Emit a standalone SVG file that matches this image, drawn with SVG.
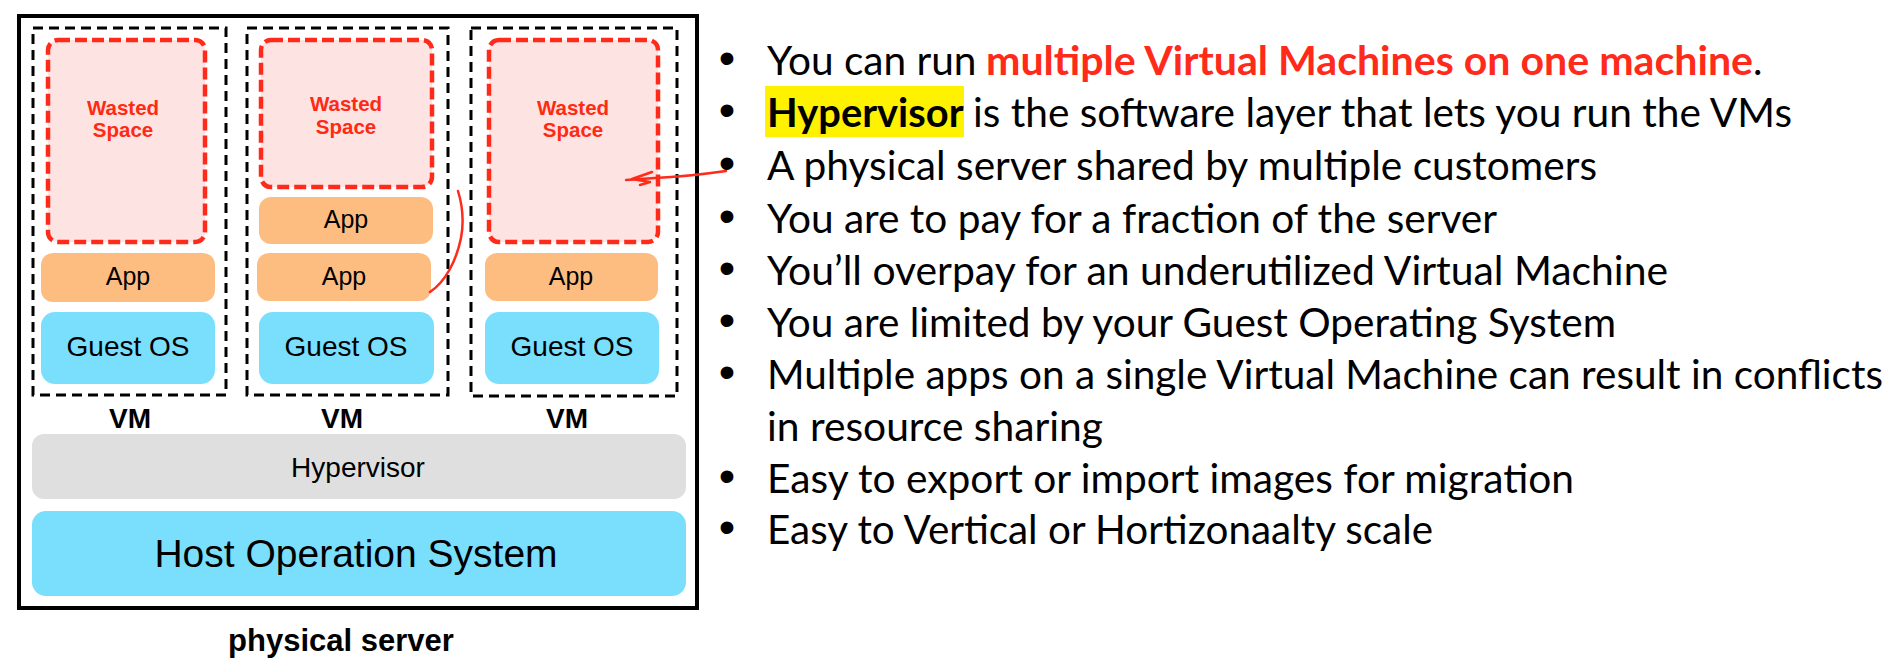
<svg xmlns="http://www.w3.org/2000/svg" width="1890" height="672" viewBox="0 0 1890 672">
  <style>
    .frame { fill: #ffffff; stroke: #000000; stroke-width: 4; }
    .vm { fill: none; stroke: #000000; stroke-width: 3; stroke-dasharray: 10 6; }
    .waste { fill: #fee3e3; stroke: #ff2a1a; stroke-width: 4.5; stroke-dasharray: 12 5; }
    .app { fill: #fdbd80; }
    .os { fill: #79dffd; }
    .hyp { fill: #dfdfdf; }
    .sans { font-family: "Liberation Sans", Arial, sans-serif; fill: #000000; text-anchor: middle; }
    .ws { font-family: "Liberation Sans", Arial, sans-serif; font-weight: bold; font-size: 20.5px; fill: #ff2a12; text-anchor: middle; }
    .lbl { font-size: 25px; }
    .oslbl { font-size: 28px; }
    .vmlbl { font-size: 28px; font-weight: bold; }
    .note { font-family: Lato, "Open Sans", sans-serif; font-size: 40px; fill: #000000; }
    .note-b { font-family: Lato, "Open Sans", sans-serif; font-size: 40px; font-weight: bold; }
    .dot { font-family: "Liberation Sans", Arial, sans-serif; font-size: 47px; fill: #000000; text-anchor: middle; }
    .ink { fill: none; stroke: #ff2a1a; stroke-width: 2.5; stroke-linecap: round; stroke-linejoin: round; }
  </style>

  <rect width="1890" height="672" fill="#ffffff"/>

  <!-- physical server frame -->
  <g id="physical-server">
    <rect class="frame" x="19" y="16" width="678" height="592"/>
    <text class="sans" x="341" y="651" font-size="31" font-weight="bold">physical server</text>
  </g>

  <!-- VM 1 -->
  <g id="vm1">
    <rect class="vm" x="33" y="28" width="193" height="367"/>
    <rect class="waste" x="48" y="40" width="157" height="202" rx="10"/>
    <text class="ws" x="123" y="115">Wasted</text>
    <text class="ws" x="123" y="137">Space</text>
    <rect class="app" x="41" y="253" width="174" height="49" rx="12"/>
    <text class="sans lbl" x="128" y="285">App</text>
    <rect class="os" x="41" y="312" width="174" height="72" rx="14"/>
    <text class="sans oslbl" x="128" y="356">Guest OS</text>
    <text class="sans vmlbl" x="130" y="428">VM</text>
  </g>

  <!-- VM 2 -->
  <g id="vm2">
    <rect class="vm" x="247" y="28" width="201" height="367"/>
    <rect class="waste" x="261" y="40" width="171" height="147" rx="10"/>
    <text class="ws" x="346" y="111">Wasted</text>
    <text class="ws" x="346" y="134">Space</text>
    <rect class="app" x="259" y="197" width="174" height="47" rx="12"/>
    <text class="sans lbl" x="346" y="228">App</text>
    <rect class="app" x="257" y="253" width="174" height="48" rx="12"/>
    <text class="sans lbl" x="344" y="285">App</text>
    <rect class="os" x="259" y="312" width="175" height="72" rx="14"/>
    <text class="sans oslbl" x="346" y="356">Guest OS</text>
    <text class="sans vmlbl" x="342" y="428">VM</text>
  </g>

  <!-- VM 3 -->
  <g id="vm3">
    <rect class="vm" x="471" y="28" width="206" height="368"/>
    <rect class="waste" x="489" y="40" width="169" height="202" rx="10"/>
    <text class="ws" x="573" y="115">Wasted</text>
    <text class="ws" x="573" y="137">Space</text>
    <rect class="app" x="485" y="253" width="173" height="48" rx="12"/>
    <text class="sans lbl" x="571" y="285">App</text>
    <rect class="os" x="485" y="312" width="174" height="72" rx="14"/>
    <text class="sans oslbl" x="572" y="356">Guest OS</text>
    <text class="sans vmlbl" x="567" y="428">VM</text>
  </g>

  <!-- shared layers -->
  <g id="hypervisor">
    <rect class="hyp" x="32" y="434" width="654" height="65" rx="12"/>
    <text class="sans" x="358" y="477" font-size="28">Hypervisor</text>
  </g>
  <g id="host-os">
    <rect class="os" x="32" y="511" width="654" height="85" rx="14"/>
    <text class="sans" x="356" y="567" font-size="39">Host Operation System</text>
  </g>

  <!-- bullet list -->
  <g id="notes">
    <rect x="765" y="86" width="199" height="51" fill="#fff200"/>
    <text class="dot" x="727" y="74">•</text>
    <text class="dot" x="727" y="126">•</text>
    <text class="dot" x="727" y="179">•</text>
    <text class="dot" x="727" y="232">•</text>
    <text class="dot" x="727" y="284">•</text>
    <text class="dot" x="727" y="336">•</text>
    <text class="dot" x="727" y="388">•</text>
    <text class="dot" x="727" y="492">•</text>
    <text class="dot" x="727" y="543">•</text>

    <text class="note" x="767" y="75" textLength="209.5" lengthAdjust="spacingAndGlyphs">You can run</text>
    <text class="note-b" x="986" y="75" fill="#ff2a1a" textLength="767" lengthAdjust="spacingAndGlyphs">multiple Virtual Machines on one machine</text>
    <text class="note" x="1753" y="75">.</text>

    <text class="note-b" x="767" y="127" fill="#000000" textLength="196.5" lengthAdjust="spacingAndGlyphs">Hypervisor</text>
    <text class="note" x="973" y="127" textLength="819" lengthAdjust="spacingAndGlyphs">is the software layer that lets you run the VMs</text>

    <text class="note" x="767" y="180" textLength="830" lengthAdjust="spacingAndGlyphs">A physical server shared by multiple customers</text>
    <text class="note" x="767" y="233" textLength="730" lengthAdjust="spacingAndGlyphs">You are to pay for a fraction of the server</text>
    <text class="note" x="767" y="285" textLength="901" lengthAdjust="spacingAndGlyphs">You’ll overpay for an underutilized Virtual Machine</text>
    <text class="note" x="767" y="337" textLength="849" lengthAdjust="spacingAndGlyphs">You are limited by your Guest Operating System</text>
    <text class="note" x="767" y="389" textLength="1116" lengthAdjust="spacingAndGlyphs">Multiple apps on a single Virtual Machine can result in conflicts</text>
    <text class="note" x="767" y="441" textLength="336" lengthAdjust="spacingAndGlyphs">in resource sharing</text>
    <text class="note" x="767" y="493" textLength="807" lengthAdjust="spacingAndGlyphs">Easy to export or import images for migration</text>
    <text class="note" x="767" y="544" textLength="666" lengthAdjust="spacingAndGlyphs">Easy to Vertical or Hortizonaalty scale</text>
  </g>

  <!-- hand-drawn pen marks -->
  <g id="connectors">
    <path class="ink" d="M430,292 C445,282 456,262 461,238 C464,222 462,204 458,191"/>
    <path class="ink" d="M726,171 C705,174 680,177 655,178 L626,180"/>
    <path class="ink" d="M652,172 L632,179 L650,182 L640,185"/>
  </g>
</svg>
